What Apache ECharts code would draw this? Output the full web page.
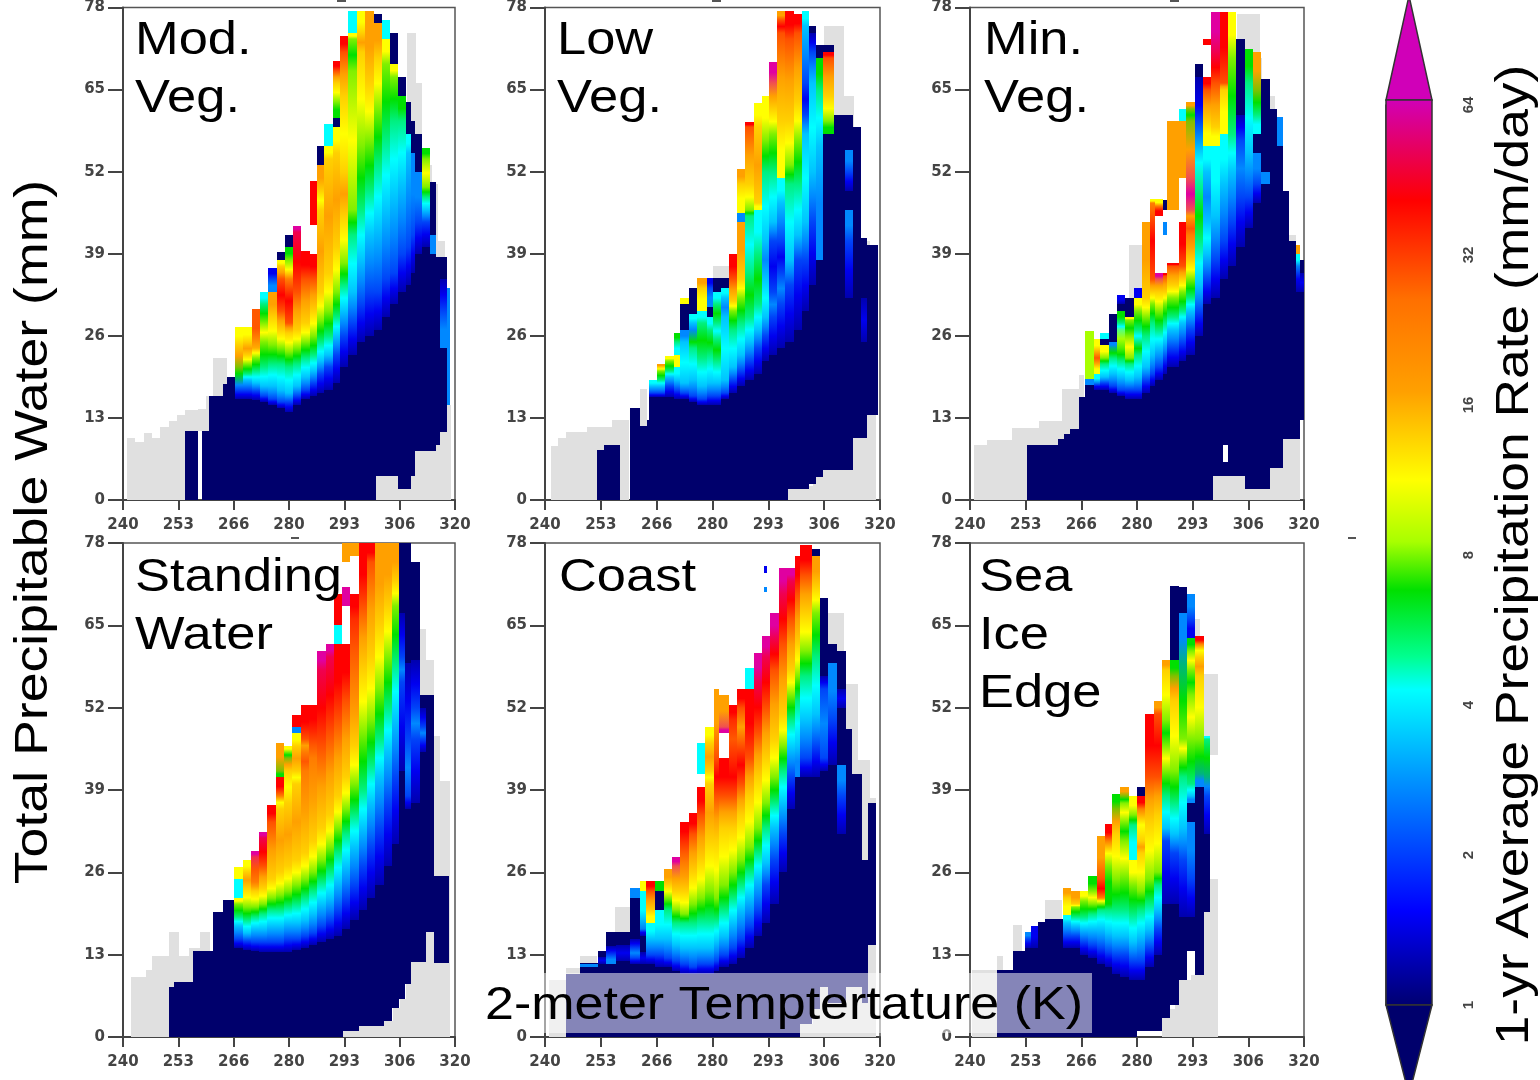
<!DOCTYPE html>
<html><head><meta charset="utf-8">
<style>html,body{margin:0;padding:0;background:#fff;overflow:hidden}#c{width:1540px;height:1080px}#c canvas{filter:blur(0.7px)}</style>
<script src="https://cdn.jsdelivr.net/npm/echarts@6/dist/echarts.min.js"></script>
</head><body><div id="c"></div>
<script>
// Axis ticks
const xTickLabels = ['240','253','266','280','293','306','320'];
const yTickValues = [0,13,26,39,52,65,78];
const colorbarTicks = [1,2,4,8,16,32,64];
// Precipitation classes (mm/day) and their colours; index -1 = no data
const rateClasses = [0.7,1.5,2.8,4,5,6.5,8.5,11,17,25,40,64];
const classColors = ['#00006c','#0000f0','#0088ff','#00ffff','#00ff90','#00e000','#a8ff00','#ffff00','#ffa000','#ff5800','#ff0000','#e000a0'];
const greyColor = '#e0e0e0';
// Columns: [T start, y0, class, y1, class, y2, ...]; each column ends at the next column's T
const modVegColumns = [
[255,0,0,11],[258],[259,0,0,11],[260.7,0,0,16.5],[264,0,0,18.4],[265,0,0,19.5],
[266.9,0,0,16,1,17.5,2,19,5,21,8,24.5,7,27.4],
[269,0,0,16,1,17.5,2,19,3,20,5,21.5,7,23,8,25,7,27.4],
[271,0,0,15.8,1,17.3,2,18.5,3,20.5,5,22.5,7,24,9,30.3],
[273,0,0,15.5,1,16.5,2,18,3,21,5,25,7,28,5,31,3,33],
[275,0,0,15,1,16,2,18,3,21.5,5,24.5,7,29,8,33,2,35,1,36.8],
[277,0,0,14.5,1,15.5,2,17.5,3,21.5,5,24,7,27,8,30,10,35,8,37,7,38,0,39.3],
[279,0,0,14,1,15.5,2,17,3,21,5,23.5,7,26.5,8,28,10,35,7,38,5,40,0,42],
[281,0,0,15,1,16.5,2,18,3,21.5,5,24,7,27,8,33,10,42.5,11,43.4],
[283,0,0,16,1,17.5,2,19.5,3,22.5,5,25,7,28,8,35,10,39.5],
[285,0,0,16.5,1,18.5,2,20.5,3,23,5,26,7,30,8,35,10,39,-1,43.5,10,50.5],
[286.7,0,0,17,1,20,2,22,3,25,5,28.5,7,33,8,46,7,49,8,53,0,56],
[288.5,0,0,17.5,1,21,2,23,3,26,5,30,7,36,8,54,7,56,3,59.6],
[290.5,0,0,18.5,1,23,2,26,3,29,5,33,7,40,8,55,7,59,0,60.5,5,63,7,66,8,68,10,69.5],
[292.3,0,0,21,1,26,2,30,3,34,5,37.5,7,45,8,52,7,64,8,71,10,73.5],
[294.3,0,0,23,1,28,2,33,3,42,5,46,7,68,5,73,7,74,3,77.5],
[296.3,0,0,25,1,31,2,38,3,46,5,56,7,71,8,74,7,77.5],
[298.4,0,0,26,1,33,2,42,3,49,5,57,7,66,8,77.5],
[300.4,0,0,27,1,33,2,43,3,53,5,62,7,70,8,75.5,0,77],
[301,3.8,0,27,1,33,2,43,3,53,5,62,7,70,8,75.5,0,77],
[302.4,3.8,0,29,1,35,2,46,3,57,5,69,7,73,3,76],
[304.4,3.8,0,31,1,36,2,48,3,60,5,67,7,69,0,74],
[306.3,1.8,0,33,1,39,2,50,3,60,5,64,0,67],
[308.3,1.8,0,34,1,40,2,55,3,58,0,63],
[309.3,3.8,0,36,1,42,2,55,0,60],
[310.4,7.8,0,39,1,44,2,52,0,58],
[312,7.8,0,40,1,44,2,46,3,48,5,49.5,7,54,5,55.8],
[314,7.8,0,39,2,42,0,50.4],
[315.5,8.7,0,38.5],
[316.5,10.8,0,24,2,30,1,35,0,38.5],
[318,15,2,33.5],
[318.7]];
const modVegGrey = [[241,0,9.8],[243,0,9.2],[245,0,10.6],[247,0,9.8],[249,0,11.5],[251,0,12.5],[253,0,13.5],[255,0,14.3],[258,11,14.4],[260,11,16.5],[261.8,11,22.5],[265,11,19],[267],[301,0,3.8],[308.5,0,74],[310.5,0,66],[312,0,53],[314.5,0,50],[316,0,41],[317.5,0,15],[319]];
const lowVegColumns = [
[252.4,0,0,7.9],[254,0,0,8.7],[258],[260.2,0,0,14.6],[262.7,0,0,11.7],[264.3,0,0,12.7],
[264.8,0,0,16.3,1,17,2,18,3,19],
[266.7,0,0,16.3,1,17,2,18,3,19,5,20.5,7,21,8,21.6],
[268.7,0,0,16.3,1,18,2,19.5,3,20.5,5,22,7,22.8],
[270.7,0,0,16,1,17.5,2,19,3,21,7,23,3,25,5,26.5],
[272.3,0,0,16,1,17,2,18.5,3,25,2,27,0,31,7,32],
[274.3,0,0,15.5,1,16.5,2,19,3,24,5,26,2,28,3,29.5,0,33.6],
[276.3,0,0,15,1,16,2,18,3,22.5,5,28,3,30,7,33.5,8,35.2],
[278.6,0,0,15,1,16.5,2,18.5,3,23,5,27,3,29,0,30.5,2,33.5,1,35.2],
[280,0,0,15,1,16.5,2,18.5,3,22,5,25.5,3,28,5,31,3,33,0,35.2],
[282,0,0,16,1,17,2,19,3,29,2,32,3,33.5,0,35.2],
[284,0,0,17,1,19,2,21,3,27,5,30,7,31.5,8,35,10,39],
[285.8,0,0,18,1,20.5,2,23,3,28,5,32,7,35,8,44,2,45.5,7,50,8,52.5],
[287.8,0,0,19,1,22,2,25,3,29,5,36,3,45,5,46,7,50,8,59,10,59.9],
[289.8,0,0,20,1,24,2,27,3,31,5,39,3,46,7,47,8,59,7,62.9],
[291.8,0,0,22,1,26,2,29,3,35,2,41,3,52,5,57,7,64],
[293.4,0,0,23,1,29,2,33,1,41,2,44,3,52,5,58,7,62,8,66,11,69.4],
[295.4,0,0,24,1,31,2,36,1,41,2,47,3,51,7,60,8,74,10,76,8,77.5],
[297.4,0,0,25,1,34,2,38,3,50,5,53,7,60,8,73,10,77.5],
[298,1.8,0,25,1,34,2,38,3,50,5,53,7,60,8,73,10,77.5],
[299.4,1.8,0,27,1,38,2,42,3,50,5,57,7,63,8,74,10,77],
[301.4,1.8,0,30,1,38,2,44,3,58,2,61,1,66,2,75,3,77.5],
[303,2.5,0,34,1,44,2,52,3,66,2,71,1,74,0,75],
[304.8,3.6,0,38,2,56,3,65,5,70,0,72],
[306.4,4.7,0,58,5,60,7,64,8,70,10,71,0,72],
[308.9,4.7,0,61],
[311.7,4.7,0,32,1,41,2,46,0,49,1,52,2,55.5,0,61],
[313.5,9.8,0,59],
[315.4,9.8,0,25,1,32,0,41.5],
[317,13.5,0,40.4],
[319.5]];
const lowVegGrey = [[241.5,0,8.5],[243,0,9.8],[245,0,10.8],[250,0,11.6],[256,0,12.7],[260],[262.7,0,17.6],[264.3],[280,30,37],[284],[298,0,1.8],[302.5,0,2.2],[304,0,3.6],[306,0,4.7],[306.6,0,75],[311.4,0,64],[313.7,0,59],[315.4,0,41],[317.6,0,13.5],[319]];
const minVegColumns = [
[253.6,0,0,8.7],[261,0,0,9.7],[262.5,0,0,10.5],[264,0,0,11.3],[266,0,0,16.3],
[267.6,0,0,18.2,2,19.2,6,26.8],
[269.6,0,0,17.5,1,18.5,3,20,7,21.5,9,23.5,7,25.5],
[271.2,0,0,17.5,1,18.5,2,19.5,3,21.5,5,22.5,7,24.5,0,25.5,3,26.5],
[273.2,0,0,17,1,18,2,20,3,22.5,5,24,2,25,0,29.5],
[275.2,0,0,16.5,1,17.5,2,19.5,3,22,5,24,6,27,3,28,5,30,0,31,1,32.5],
[277.2,0,0,16,1,17.5,2,19,3,21.5,5,22.5,7,26,5,28.5,7,29,0,32],
[279.2,0,0,16,1,17.5,2,19.5,3,23,5,25,3,27,5,30,7,32,1,33.6],
[281.2,0,0,17,1,19,2,21,3,26,5,29,7,32,8,44],
[283,0,0,18,1,20,2,23,3,28,5,31,7,33,8,35,10,47,7,47.7],
[284.2,0,0,19,1,21,2,24,3,27,5,30,7,33,8,35,11,36,-1,45,10,46.5,7,47.7],
[286.2,0,0,20,1,22.5,2,25,3,28,5,31,7,33,8,35.5,10,36,-1,42,2,44,-1,46,0,47.5],
[287.3,0,0,21,1,24,2,27,3,29,5,32,7,34,8,37,10,37.5,-1,46,8,60],
[290,0,0,22,1,25,2,28,3,30,5,33,7,35,8,37,10,44,-1,51,8,60,3,62],
[291.8,0,0,23,1,27,2,30,3,32,5,35,7,38,8,42,9,44,8,46,11,51,8,60,5,62,8,63],
[293.8,0,0,26,1,30,2,34,3,41,5,49,3,58,1,67,0,69],
[295.8,0,0,31,1,35,2,39,3,44,2,52,3,56,7,60,8,65,10,67,-1,72,10,73],
[297.8,0,0,32,1,38,2,45,3,56,7,59,8,66,10,71,11,77.3],
[298.2,3.8,0,32,1,38,2,45,3,56,7,59,8,66,10,71,11,77.3],
[299.8,3.8,0,35,1,41,2,50,3,58,7,65,8,66,10,77.3],
[300.6,3.8,0,6,-1,8.7,0,35,1,41,2,50,3,58,7,65,8,66,10,77.3],
[301.8,3.8,0,37,1,44,2,52,3,58,5,70,7,77.3],
[303.8,3.8,0,40,1,48,2,57,1,61,0,73],
[305.8,1.8,0,43,1,48,2,55,3,66,5,71.5],
[307.8,1.8,0,47,1,50,2,55,0,58,3,61,5,65,8,71],
[309.8,1.8,0,50,2,52,0,66.7],
[311.8,5,0,62],
[313.6,5,0,56,2,60.7],
[315,9.7,0,49],
[316.4,9.7,0,41],
[318,9.7,0,33,1,37,3,39,8,40.4],
[319,12.6,0,33,1,36,0,38],
[320]];
const minVegGrey = [[241,0,8.7],[244,0,9.5],[250,0,11.4],[256.5,0,12.5],[262,0,17.6],[266,0,19.8],[267.4],[278,20,40.4],[281.8],[298,0,3.8],[304,0,77],[309.5,0,70],[310,0,64],[313,0,42],[318,0,9.7],[319]];
const standingColumns = [
[251.2,0,0,7.9],[252.3,0,0,8.7],[256.8,0,0,13.6],[261.6,0,0,19.8],[264,0,0,21.7],
[266.7,0,0,14,1,15.5,2,17.5,3,19,5,21,7,22,3,25,7,26.9],
[268.8,0,0,13.8,1,15.2,2,16.5,3,18.5,5,20.5,7,23.5,8,26,7,28],
[270.8,0,0,13.6,1,15,2,17,3,19,5,20.5,7,23,8,24.5,9,28.5,11,29.3],
[272.8,0,0,13.5,1,15,2,17,3,19.5,5,21,7,23.5,8,27,10,31.5,11,32.3],
[274.8,0,0,13.5,1,15,2,17.5,3,20,5,22,7,25,8,34,10,36.7],
[276.8,0,0,13.5,1,15,2,17.5,3,20,5,22.5,7,26,8,36,7,38,10,41,5,42,8,46.5],
[278.8,0,0,13.5,1,15.5,2,18,3,20.5,5,23,7,27,8,37,7,42,8,44,5,45,7,46],
[280.8,0,0,13.8,1,15.5,2,18,3,21,5,24,7,28,8,40,7,42,8,46,7,48,2,49,10,50.8],
[282.8,0,0,14,1,16,2,18.5,3,22,5,25,7,29,8,42,9,45,8,47,10,52.5],
[284.8,0,0,14.5,1,16.5,2,19.5,3,23,5,26,7,31,8,44,9,48,10,52.5],
[286.8,0,0,15,1,17.5,2,21,3,24.5,5,28,7,33,8,46,10,58,11,61],
[288.8,0,0,15.5,1,18.5,2,22,3,26,5,30,7,35,8,48,10,60,11,62],
[290.8,0,0,16,1,20,2,24.5,3,29,5,33,7,38,8,50,10,62,3,65,10,70],
[292.8,0,0,17,1,22,2,27,3,32,5,36,7,41,8,53,10,62,-1,68,11,71,-1,75,8,78],
[293,1,0,17,1,22,2,27,3,32,5,36,7,41,8,53,10,62,-1,68,11,71,-1,75,8,78],
[294.8,1,0,18.5,1,24,2,30,3,35,5,40,7,46,8,56,9,66,10,70,-1,76,8,78],
[296.8,1.8,0,20,1,27,2,33,3,39,5,48,7,58,8,68,10,78],
[298.8,1.8,0,22,1,30,2,37,3,43,5,50,7,60,8,75,10,78],
[300.8,1.8,0,24,1,33,2,41,3,47,5,55,7,65,8,78],
[302.8,2.6,0,27,1,37,2,45,3,52,5,60,7,68,8,78],
[304.8,4.6,0,30.5,1,41,2,50,3,59,5,68,7,72,8,78],
[306.4,6,0,42,1,56,2,60,1,67,0,78],
[308,8.3,0,36,1,38,2,47,1,59,0,78],
[309.5,11.8,0,37,1,47,2,52,1,59.5,0,75],
[311.6,11.8,0,45,1,47,2,49,1,52,0,54],
[313,16.6,0,54],
[315,11.7,0,25.5],
[318.6]];
const standingGrey = [[242,0,9.5],[245.5,0,10.6],[247,0,12.8],[251,0,16.6],[253.5,0,12.8],[256,0,14],[258.5,0,16.6],[261],[293,0,1],[296.3,0,1.8],[302.5,0,2.6],[305,0,4.6],[306.7,0,6],[308.3,0,8.3],[309.5,0,11.8],[311.5,0,64.4],[313,0,59.5],[315,0,47.5],[316.5,0,40.5],[318.8]];
const coastColumns = [
[245,0,0,10],[248.4,0,0,11,2,11.5,0,11.7],[252.6,0,0,11.5,1,12.7,0,13.6],
[254.5,0,0,11.5,2,13,1,14.3,0,16.6],[257,0,0,12,1,14.5,0,16.6],
[260.3,0,0,11.5,1,12.5,2,14,1,15.5,0,22,2,23.6],
[262.7,0,0,11.5,1,13.5,0,16,1,17,3,23,7,24.7],
[264.2,0,0,11.5,1,13,2,15.5,3,18,7,20,8,23,10,24.7],
[266.3,0,0,11,1,13,2,15.5,3,20,0,23,5,24.7],
[268.3,0,0,11,1,12.5,2,15.5,3,20,5,22,7,24,8,26.6],
[270.3,0,0,10.5,1,12,2,14.5,3,18,5,20,7,23,8,27,11,28.5],
[272.3,0,0,10,1,11.5,2,14,3,18,5,19.5,7,23,8,27.5,9,31,10,34],
[274.3,0,0,10,1,11,2,14,3,18,5,21,7,26,8,32,10,35.3],
[276.3,0,0,10,1,11.5,2,14,3,18.5,5,22,7,28,8,35,10,39.4,-1,41.5,3,46.5],
[278.3,0,0,10,1,11.5,2,14,3,18.5,5,23,7,31,8,40,7,42,8,46.5,7,49],
[280.3,0,0,10.5,1,12,2,15,3,18.5,5,22,7,31,8,38,10,44,8,55],
[281.6,0,0,11,1,13,2,16,3,20,5,24,7,33,8,38,10,44,-1,48,11,49,8,54],
[284,0,0,11.5,1,14,2,18,3,22,5,26,7,33,8,38,10,44,9,50,10,52.5],
[285.8,0,0,12.5,1,15.5,2,20,3,24,5,28,7,35,8,40,10,46,8,52,10,55],
[287.8,0,0,14,1,17.5,2,22,3,26,5,30,7,38,8,44,10,55,3,58.2],
[289.8,0,0,16,1,20,2,25,3,29,5,33,7,41,8,48,10,56,11,60.6],
[291.8,0,0,18,1,24,2,27.5,3,33,5,37,7,44,8,52,10,60,11,63.3],
[292.2,0,0,18,1,24,2,27.5,3,33,5,37,7,44,8,52,10,60,11,63.3,-1,70.3,2,71,-1,73.3,1,74.3],
[293,0,0,18,1,24,2,27.5,3,33,5,37,7,44,8,52,10,60,11,63.3],
[293.8,0,0,21,1,28,2,33,3,37,5,41,7,47,8,58,10,63,11,67],
[295.8,0,0,26,1,32,2,37,3,42,5,46,7,51,8,62,10,70,11,74],
[297.8,0,0,36,1,41,2,45.5,3,50,5,54,7,58,8,66,10,72,11,74],
[299.8,0,0,41,2,46,3,53,5,57,7,62,8,70,10,76],
[301,2,0,41,1,44,2,50,3,57,5,61,7,67,8,73,10,77.7],
[303.8,4.5,0,41,1,46,2,51,3,60,5,67,7,71,8,76,0,77],
[305.7,7.9,0,42,1,44,2,55,1,57,0,69.3],
[307.7,5.4,0,43,1,50,2,59,0,62],
[309.7,5.4,0,32,1,38,2,43,0,52,1,55,0,61],
[311.8,7.9,0,48.6],
[313.4,7.9,0,41.5],
[315.6,5.4,0,28],
[317.2,14.6,0,37],
[319]];
const coastGrey = [[241,0,9],[245,0,10.9],[248.4,0,12.8],[252.3],[256.7,0,20.6],[260.3],[300.5,0,2],[304,0,7.9],[307,0,67],[311.3,0,55.7],[314.8,0,43.7],[317.6,0,37.8],[319]];
const seaIceColumns = [
[246.4,0,0,10.6],[250.4,0,0,13.6],[253.2,0,0,14,1,15.5,2,16.6],[254.5,0,0,14,1,17.6],[256.4,0,0,18.2],[258,0,0,18.7],
[262.3,0,0,14,1,16,2,18,3,19.3,7,22,8,23.6],
[264.3,0,0,14,1,16,2,17.5,3,19,5,20.5,7,21,8,23],
[266.3,0,0,13,1,15,2,17,3,19,5,21.5,7,23],
[268.3,0,0,12.5,1,14.5,2,17,3,19.5,5,21,7,23,5,25.5],
[270.3,0,0,11.5,1,14,2,17,3,20,5,21,7,22,10,25,8,31.8],
[272.3,0,0,11,1,13.5,2,16.5,3,20,5,22,5,27,7,31,10,33.7],
[274,0,0,10,1,13,2,16,3,20,5,25,7,32,8,36,5,38.3],
[276,0,0,9.5,1,13,2,16,3,20,5,25.5,7,31,5,34,7,37,5,38,8,39.4],
[278,0,0,9,1,12,2,15,3,19.5,5,24,7,28,3,33.5,5,35,7,38],
[280,1,0,9,1,12,2,16,3,20,5,23,7,29,8,31,7,36,10,38,0,39.4],
[282,1,0,11,1,14,2,17,3,21,5,25,7,34,8,41,10,51],
[284,1,0,13,1,17,2,20,3,24,5,26,7,35,8,41,10,51,8,53],
[286,3,0,21,1,31,2,33,3,38,5,42,7,46,5,50,7,58,8,59.5],
[288,5,0,21,1,29,2,32,3,37,5,42,7,53,8,57,5,59.5,0,71.2],
[290,9,0,19,1,28,2,33,3,41,5,44,7,47,5,59,2,67,0,71],
[292,13.6,0,19,1,25,2,34,0,37,2,38,3,40,5,47,7,54,5,58,7,61,5,63,1,66,2,70],
[293.8,9.8,0,39.5,2,41.5,5,47,7,57,8,60,7,62,10,63.3],
[296,19.8,0,32,1,38,2,41,5,47,3,47.5],
[297.6]];
const seaIceGrey = [[240.5,0,10.6],[246.4,0,12.8],[248,0,10.6],[250.4,0,17.7],[252.5,0,13],[258,0,21.7],[262],[286,0,3],[287.5,0,4.5],[289,0,6],[290,0,9],[293,0,9.8,57,66],[295,0,11,57,60],[296,0,20,44.5,57.3],[297.5,0,25,44.5,57.3],[299.5]];
// Colour bar: rate at tip, base, base, tip (mm/day) and gradient stops (rate, colour)
const colorbarEnds = [106,65.5,1,0.66];
const colorbarStopRates = [65.5,41,26,17,11.3,8.5,6.8,5,4.3,2.8,1.55,1];
const colorbarStopColors = ['#d000b8','#ff0000','#ff7000','#ffa000','#ffff00','#a8ff00','#00e000','#00ff90','#00ffff','#0090ff','#0000ff','#000070'];
const xMin = 240, xMax = 320, yMax = 78;

const panels = [
 {title:'Mod.\nVeg.', cols:modVegColumns, grey:modVegGrey, left:123, top:5, w:332, h:495, tx:135, ty:12},
 {title:'Low\nVeg.', cols:lowVegColumns, grey:lowVegGrey, left:545, top:5, w:335, h:495, tx:557, ty:12},
 {title:'Min.\nVeg.', cols:minVegColumns, grey:minVegGrey, left:970, top:5, w:334, h:495, tx:984, ty:12},
 {title:'Standing\nWater', cols:standingColumns, grey:standingGrey, left:123, top:543, w:332, h:494, tx:135, ty:549},
 {title:'Coast', cols:coastColumns, grey:coastGrey, left:545, top:543, w:335, h:494, tx:559, ty:549},
 {title:'Sea\nIce\nEdge', cols:seaIceColumns, grey:seaIceGrey, left:970, top:543, w:334, h:494, tx:979, ty:549}
];
function rects(cols){ // -> [T0,T1,y0,y1,class,classBelow,classAbove]
  const out=[];
  cols.forEach((c,i)=>{
    if(i+1>=cols.length) return;
    for(let k=1;k+2<c.length;k+=2){
      if(c[k+1]<0) continue;
      const below=k>=3?c[k-1]:c[k+1], above=k+4<c.length?c[k+3]:c[k+1];
      out.push([c[0],cols[i+1][0],c[k],c[k+2],c[k+1],below,above]);
    }
  });
  return out;
}
function greyRects(cols){
  const out=[];
  cols.forEach((c,i)=>{
    if(i+1>=cols.length) return;
    for(let k=1;k+1<c.length;k+=2) out.push([c[0],cols[i+1][0],c[k],c[k+1],-2,-2,-2]);
  });
  return out;
}
function hex(c){return [parseInt(c.slice(1,3),16),parseInt(c.slice(3,5),16),parseInt(c.slice(5,7),16)];}
function mid(a,b){const A=hex(a),B=hex(b);return 'rgb('+A.map((v,i)=>Math.round((v+B[i])/2)).join(',')+')';}
function edgeColor(cl,other){ // soften class boundaries the way the smooth source image does
  if(other<0||cl===0||other===0&&cl>1||Math.abs(other-cl)>3) return classColors[cl];
  return mid(classColors[cl],classColors[other]);
}
function cell(params,api){
  const p0=api.coord([api.value(0),api.value(2)]), p1=api.coord([api.value(1),api.value(3)]);
  const x=Math.round(p0[0]), x2=Math.round(p1[0]), y=Math.round(p1[1]), y2=Math.round(p0[1]);
  const cl=api.value(4);
  let fill;
  if(cl<0) fill=greyColor;
  else if(cl===0) fill=classColors[0];
  else fill=new echarts.graphic.LinearGradient(0,1,0,0,[{offset:0,color:edgeColor(cl,api.value(5))},{offset:0.5,color:classColors[cl]},{offset:1,color:edgeColor(cl,api.value(6))}]);
  return {type:'rect',shape:{x:x,y:y,width:x2-x,height:y2-y},style:{fill:fill}};
}
const grids=[],xAxes=[],yAxes=[],series=[];
const axisGrey='#444';
panels.forEach((p,i)=>{
  grids.push({left:p.left,top:p.top,width:p.w,height:p.h,show:true,borderColor:'#555',borderWidth:1.5,backgroundColor:'transparent'});
  xAxes.push({type:'value',gridIndex:i,min:xMin,max:xMax,interval:(xMax-xMin)/6,
    axisLine:{onZero:false,lineStyle:{color:axisGrey,width:2}},axisTick:{show:true,length:10,lineStyle:{color:axisGrey,width:2}},splitLine:{show:false},
    axisLabel:{margin:18,fontFamily:'DejaVu Sans',fontWeight:'bold',fontSize:15,color:'#444',showMinLabel:true,showMaxLabel:true,hideOverlap:false,formatter:(v)=>xTickLabels[Math.round((v-xMin)/((xMax-xMin)/6))]}});
  yAxes.push({type:'value',gridIndex:i,min:0,max:yMax,interval:13,
    axisLine:{onZero:false,lineStyle:{color:axisGrey,width:2}},axisTick:{show:true,length:15,lineStyle:{color:axisGrey,width:2}},splitLine:{show:false},
    axisLabel:{margin:18,fontFamily:'DejaVu Sans',fontWeight:'bold',fontSize:15,color:'#444',showMinLabel:true,showMaxLabel:true,hideOverlap:false}});
  series.push({type:'custom',xAxisIndex:i,yAxisIndex:i,renderItem:cell,silent:true,animation:false,z:1,data:greyRects(p.grey),encode:{x:[0,1],y:[2,3]}});
  series.push({type:'custom',xAxisIndex:i,yAxisIndex:i,renderItem:cell,silent:true,animation:false,z:2,data:rects(p.cols),encode:{x:[0,1],y:[2,3]}});
});
// colour bar
const lg=Math.log2;
const barTop=colorbarEnds[1], barBot=colorbarEnds[2];
grids.push({left:1386,top:105,width:46,height:900,show:false});
xAxes.push({type:'value',gridIndex:6,min:0,max:1,show:false});
yAxes.push({type:'value',gridIndex:6,min:0,max:6,interval:1,position:'right',
  axisLine:{show:true,lineStyle:{color:'#333',width:1.5}},axisTick:{show:true,length:10,lineStyle:{color:'#555',width:2}},splitLine:{show:false},
  axisLabel:{rotate:90,margin:29,fontFamily:'Liberation Sans',fontWeight:'bold',fontSize:15,color:'#444',showMinLabel:true,showMaxLabel:true,hideOverlap:false,formatter:v=>String(colorbarTicks[Math.round(v)])}});
series.push({type:'custom',xAxisIndex:6,yAxisIndex:6,silent:true,animation:false,z:3,clip:false,
  data:[[0,lg(colorbarEnds[0]),lg(colorbarEnds[1])],[1,lg(colorbarEnds[1]),lg(colorbarEnds[2])],[2,lg(colorbarEnds[2]),lg(colorbarEnds[3])]],
  encode:{y:[1,2]},
  renderItem:(params,api)=>{
    const kind=api.value(0), a=api.value(1), b=api.value(2);
    const l=api.coord([0,a]), r=api.coord([1,b]);
    const stroke={stroke:'#333',lineWidth:1.5};
    if(kind===1){
      const span=lg(barTop)-lg(barBot);
      const stops=colorbarStopRates.map((v,i)=>({offset:(lg(barTop)-lg(v))/span,color:colorbarStopColors[i]}));
      return {type:'rect',shape:{x:l[0],y:l[1],width:r[0]-l[0],height:r[1]-l[1]},style:Object.assign({fill:new echarts.graphic.LinearGradient(0,0,0,1,stops)},stroke)};
    }
    const bl=api.coord([0,kind===0?b:a]), br=api.coord([1,kind===0?b:a]), tipV=kind===0?a:b, tip=api.coord([0.5,tipV]);
    return {type:'polygon',shape:{points:[bl,br,tip]},style:Object.assign({fill:kind===0?'#d000b8':'#00006c'},stroke)};
  }});
// texts
const font='"Liberation Sans", Arial, sans-serif';
const graphics=[];
panels.forEach(p=>graphics.push({type:'text',x:p.tx,y:p.ty,scaleX:1.14,z:60,style:{text:p.title,font:'46px '+font,lineHeight:58,fill:'#000',textAlign:'left',textVerticalAlign:'top'}}));
graphics.push({type:'rect',shape:{x:543,y:973,width:549,height:60},z:50,style:{fill:'rgba(255,255,255,0.52)'}});
graphics.push({type:'text',x:784,y:1006,scaleX:1.13,z:60,style:{text:'2-meter Temptertature (K)',font:'46px '+font,fill:'#000',textAlign:'center',textVerticalAlign:'middle'}});
graphics.push({type:'text',x:34,y:532,rotation:Math.PI/2,scaleX:1.166,z:60,style:{text:'Total Precipitable Water (mm)',font:'46px '+font,fill:'#000',textAlign:'center',textVerticalAlign:'middle'}});
graphics.push({type:'text',x:1515,y:555,rotation:Math.PI/2,scaleX:1.16,z:60,style:{text:'1-yr Average Precipitation Rate (mm/day)',font:'46px '+font,fill:'#000',textAlign:'center',textVerticalAlign:'middle'}});
// small scanning specks present in the source picture
[[1348,537,8,2],[337,0,9,2],[712,0,9,2],[1170,0,9,2],[291,537,8,2]].forEach(s=>graphics.push({type:'rect',shape:{x:s[0],y:s[1],width:s[2],height:s[3]},z:40,style:{fill:'#555'}}));

const chart=echarts.init(document.getElementById('c'),null,{renderer:'canvas',width:1540,height:1080});
chart.setOption({animation:false,backgroundColor:'#fff',grid:grids,xAxis:xAxes,yAxis:yAxes,series:series,graphic:{elements:graphics}});
</script></body></html>
